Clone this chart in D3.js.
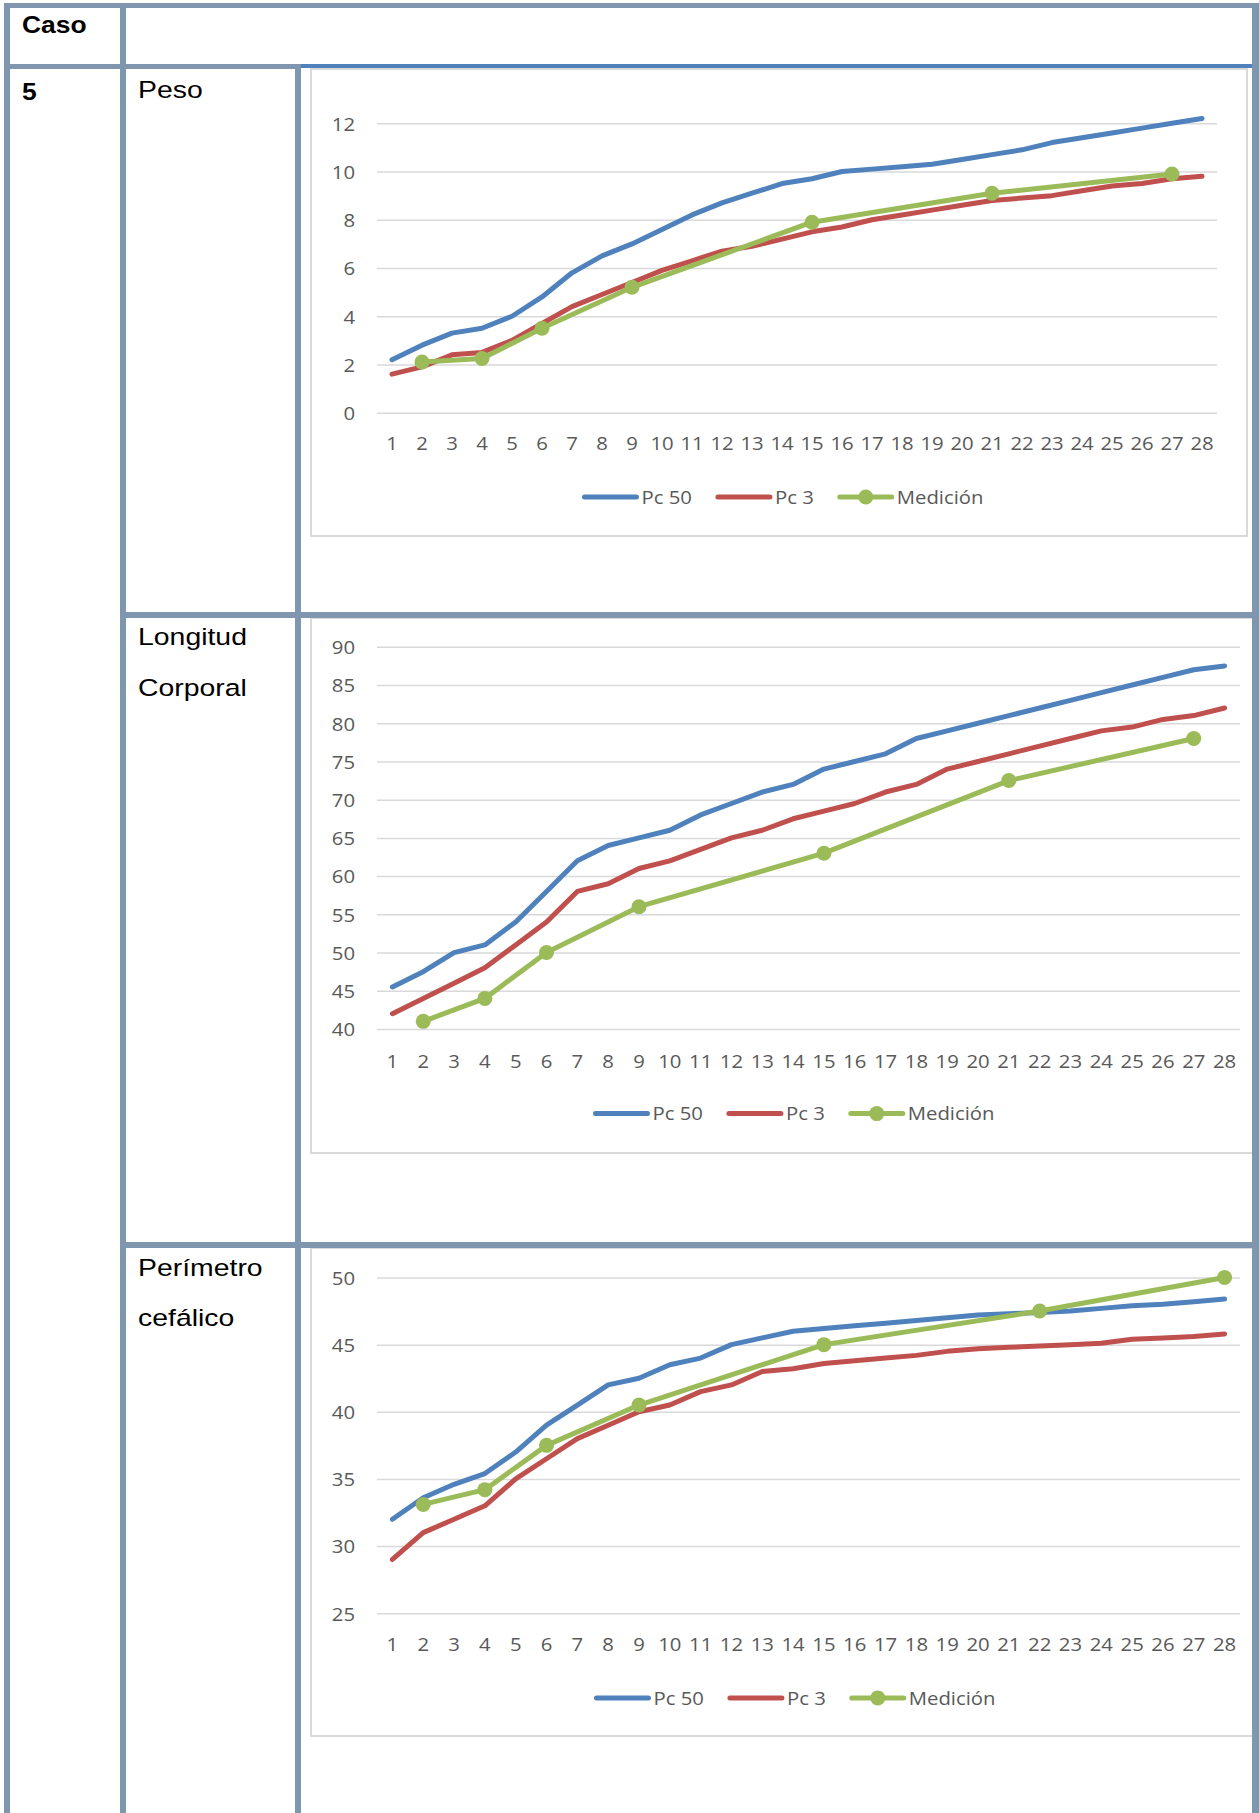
<!DOCTYPE html>
<html>
<head>
<meta charset="utf-8">
<script src="https://cdn.jsdelivr.net/npm/d3@7"></script>
<style>
  html, body { margin: 0; padding: 0; background: #ffffff; }
  svg { display: block; }
</style>
</head>
<body>
<svg id="page" width="1259" height="1813"></svg>
<script>
// ---- Data -------------------------------------------------------------
const ages = [1, 2, 3, 4, 5, 6, 7, 8, 9, 10, 11, 12, 13, 14, 15, 16, 17, 18, 19, 20, 21, 22, 23, 24, 25, 26, 27, 28];
const seriesNames = ["Pc 50", "Pc 3", "Medición"];

// Peso (kg)
const pesoTicks = [0, 2, 4, 6, 8, 10, 12];
const pesoPc50 = [2.2, 2.8, 3.3, 3.5, 4.0, 4.8, 5.8, 6.5, 7.0, 7.6, 8.2, 8.7, 9.1, 9.5, 9.7, 10.0, 10.1, 10.2, 10.3, 10.5, 10.7, 10.9, 11.2, 11.4, 11.6, 11.8, 12.0, 12.2];
const pesoPc3 = [1.6, 1.9, 2.4, 2.5, 3.0, 3.7, 4.4, 4.9, 5.4, 5.9, 6.3, 6.7, 6.9, 7.2, 7.5, 7.7, 8.0, 8.2, 8.4, 8.6, 8.8, 8.9, 9.0, 9.2, 9.4, 9.5, 9.7, 9.8];
const pesoMedAges = [2, 4, 6, 9, 15, 21, 27];
const pesoMed = [2.1, 2.25, 3.5, 5.2, 7.9, 9.1, 9.9];

// Longitud corporal (cm)
const longTicks = [40, 45, 50, 55, 60, 65, 70, 75, 80, 85, 90];
const longPc50 = [45.5, 47.5, 50, 51, 54, 58, 62, 64, 65, 66, 68, 69.5, 71, 72, 74, 75, 76, 78, 79, 80, 81, 82, 83, 84, 85, 86, 87, 87.5];
const longPc3 = [42, 44, 46, 48, 51, 54, 58, 59, 61, 62, 63.5, 65, 66, 67.5, 68.5, 69.5, 71, 72, 74, 75, 76, 77, 78, 79, 79.5, 80.5, 81, 82];
const longMedAges = [2, 4, 6, 9, 15, 21, 27];
const longMed = [41, 44, 50, 56, 63, 72.5, 78];

// Perímetro cefálico (cm)
const pcTicks = [25, 30, 35, 40, 45, 50];
const pcPc50 = [32.0, 33.6, 34.6, 35.4, 37.0, 39.0, 40.5, 42.0, 42.5, 43.5, 44.0, 45.0, 45.5, 46.0, 46.2, 46.4, 46.6, 46.8, 47.0, 47.2, 47.3, 47.4, 47.5, 47.7, 47.9, 48.0, 48.2, 48.4];
const pcPc3 = [29.0, 31.0, 32.0, 33.0, 35.0, 36.5, 38.0, 39.0, 40.0, 40.5, 41.5, 42.0, 43.0, 43.2, 43.6, 43.8, 44.0, 44.2, 44.5, 44.7, 44.8, 44.9, 45.0, 45.1, 45.4, 45.5, 45.6, 45.8];
const pcMedAges = [2, 4, 6, 9, 15, 22, 28];
const pcMed = [33.1, 34.2, 37.5, 40.5, 45.0, 47.5, 50.0];

// Row labels of the table
const caseLabel = "Caso";
const caseNumber = "5";
const rowLabels = [["Peso"], ["Longitud", "Corporal"], ["Perímetro", "cefálico"]];

// ---- Styles -----------------------------------------------------------
const BORDER = "#7f96ae";
const SERIES_COLORS = ["#4f81bd", "#c0504d", "#9bbb59"];
const GRID = "#d9d9d9";
const AXIS_TEXT = "#595959";
const CHART_FONT = "'Open Sans', Lato, sans-serif";
const CHART_FS = 19;
const CHART_SX = 1.07;
const LINE_W = 5;
const MARKER_R = 7.5;
const TABLE_FONT = "'Liberation Sans', Arial, sans-serif";
const TABLE_SX = 1.15;

const svg = d3.select("#page");

function stretchedText(parent, x, y, str, opt) {
  return parent.append("text")
    .attr("transform", `translate(${x},${y}) scale(${opt.sx},1)`)
    .attr("text-anchor", opt.anchor || "start")
    .attr("font-family", opt.family)
    .attr("font-size", opt.size)
    .attr("font-weight", opt.weight || "normal")
    .attr("fill", opt.fill || "#000")
    .attr("dy", opt.dy || null)
    .text(str);
}

// ---- Charts -----------------------------------------------------------
function drawChart(cfg) {
  const g = svg.append("g");

  // chart frame
  g.append("rect")
    .attr("x", cfg.box[0]).attr("y", cfg.box[1])
    .attr("width", cfg.box[2] - cfg.box[0]).attr("height", cfg.box[3] - cfg.box[1])
    .attr("fill", "#fff").attr("stroke", GRID).attr("stroke-width", 2);

  const x = d3.scaleBand().domain(ages).range([cfg.plotX[0], cfg.plotX[1]]);
  const xc = a => x(a) + x.bandwidth() / 2;
  const y = d3.scaleLinear().domain(cfg.domain).range(cfg.plotY);

  // value axis with gridlines
  const yAxis = g.append("g")
    .attr("transform", `translate(${cfg.plotX[0]},0)`)
    .call(d3.axisLeft(y).tickValues(cfg.ticks).tickSize(-(cfg.plotX[1] - cfg.plotX[0])).tickPadding(0));
  yAxis.select(".domain").remove();
  yAxis.selectAll(".tick line").attr("stroke", GRID).attr("stroke-width", 1.5);
  yAxis.selectAll(".tick text")
    .attr("x", null).attr("dy", "0.36em")
    .attr("transform", `translate(-22,0) scale(${CHART_SX},1)`)
    .attr("fill", AXIS_TEXT)
    .attr("font-family", CHART_FONT).attr("font-size", CHART_FS);
  yAxis.attr("font-family", null).attr("font-size", null);

  // category axis
  const xAxis = g.append("g")
    .attr("transform", `translate(0,${cfg.labelY})`)
    .call(d3.axisBottom(x).tickSize(0).tickPadding(0));
  xAxis.select(".domain").remove();
  xAxis.selectAll(".tick text")
    .attr("y", null).attr("dy", "0.36em")
    .attr("transform", `scale(${CHART_SX},1)`)
    .attr("fill", AXIS_TEXT)
    .attr("font-family", CHART_FONT).attr("font-size", CHART_FS);
  xAxis.attr("font-family", null).attr("font-size", null);

  const line = d3.line().x(d => xc(d[0])).y(d => y(d[1]));
  const series = [
    ages.map((a, i) => [a, cfg.pc50[i]]),
    ages.map((a, i) => [a, cfg.pc3[i]]),
    cfg.medAges.map((a, i) => [a, cfg.med[i]])
  ];

  series.forEach((pts, i) => {
    g.append("path")
      .datum(pts)
      .attr("d", line)
      .attr("fill", "none")
      .attr("stroke", SERIES_COLORS[i])
      .attr("stroke-width", LINE_W)
      .attr("stroke-linejoin", "round")
      .attr("stroke-linecap", "round");
  });

  g.append("g").selectAll("circle")
    .data(series[2])
    .join("circle")
    .attr("cx", d => xc(d[0]))
    .attr("cy", d => y(d[1]))
    .attr("r", MARKER_R)
    .attr("fill", SERIES_COLORS[2]);

  // legend
  const leg = g.append("g");
  let cursor = 0;
  seriesNames.forEach((name, i) => {
    const item = leg.append("g").attr("transform", `translate(${cursor},0)`);
    item.append("line")
      .attr("x1", 0).attr("x2", 52).attr("y1", 0).attr("y2", 0)
      .attr("stroke", SERIES_COLORS[i]).attr("stroke-width", LINE_W)
      .attr("stroke-linecap", "round");
    if (i === 2) {
      item.append("circle").attr("cx", 26).attr("cy", 0).attr("r", MARKER_R).attr("fill", SERIES_COLORS[i]);
    }
    const t = stretchedText(item, 57, 0, name, {
      sx: CHART_SX, family: CHART_FONT, size: CHART_FS, fill: AXIS_TEXT, dy: "0.36em"
    });
    const w = t.node().getComputedTextLength() * CHART_SX;
    cursor += 57 + w + 26;
  });
  const legendWidth = cursor - 26;
  leg.attr("transform", `translate(${cfg.legendCx - legendWidth / 2},${cfg.legendY})`);
}

drawChart({
  box: [311, 69, 1247, 536], plotX: [377, 1217], plotY: [412.7, 123.3],
  domain: [0, 12], ticks: pesoTicks, labelY: 443, legendY: 497, legendCx: 784,
  pc50: pesoPc50, pc3: pesoPc3, medAges: pesoMedAges, med: pesoMed
});
drawChart({
  box: [311, 618, 1256, 1153], plotX: [377, 1240], plotY: [1029, 646.8],
  domain: [40, 90], ticks: longTicks, labelY: 1060.7, legendY: 1113.6, legendCx: 795,
  pc50: longPc50, pc3: longPc3, medAges: longMedAges, med: longMed
});
drawChart({
  box: [311, 1248, 1256, 1736], plotX: [377, 1240], plotY: [1613.2, 1277.5],
  domain: [25, 50], ticks: pcTicks, labelY: 1644.6, legendY: 1697.9, legendCx: 796,
  pc50: pcPc50, pc3: pcPc3, medAges: pcMedAges, med: pcMed
});

// ---- Table grid -------------------------------------------------------
const grid = svg.append("g");
function bar(x, y, w, h, color) {
  grid.append("rect").attr("x", x).attr("y", y).attr("width", w).attr("height", h).attr("fill", color || BORDER);
}
bar(4, 3, 1254, 5);          // top edge
bar(4, 3, 6, 1810);          // left edge
bar(1252, 3, 7, 1810);       // right edge
bar(120, 3, 6, 1810);        // first column divider
bar(295, 64, 6, 1749);       // second column divider
bar(4, 64, 297, 5);          // header row bottom (first two columns)
bar(301, 64, 951, 4, "#4f81bd"); // header row bottom above the chart column
bar(120, 612, 1138, 6);      // row divider
bar(120, 1242, 1138, 6);     // row divider

// ---- Table text -------------------------------------------------------
const tOpt = { sx: TABLE_SX, family: TABLE_FONT, size: 23, weight: "bold" };
stretchedText(svg, 22, 33, caseLabel, tOpt);
stretchedText(svg, 22, 100, caseNumber, tOpt);

const labelOpt = { sx: TABLE_SX, family: TABLE_FONT, size: 24.7 };
const labelTops = [97.7, 645, 1275.7];
rowLabels.forEach((lines, r) => {
  lines.forEach((s, k) => stretchedText(svg, 138, labelTops[r] + k * 50.5, s, labelOpt));
});
</script>
</body>
</html>
